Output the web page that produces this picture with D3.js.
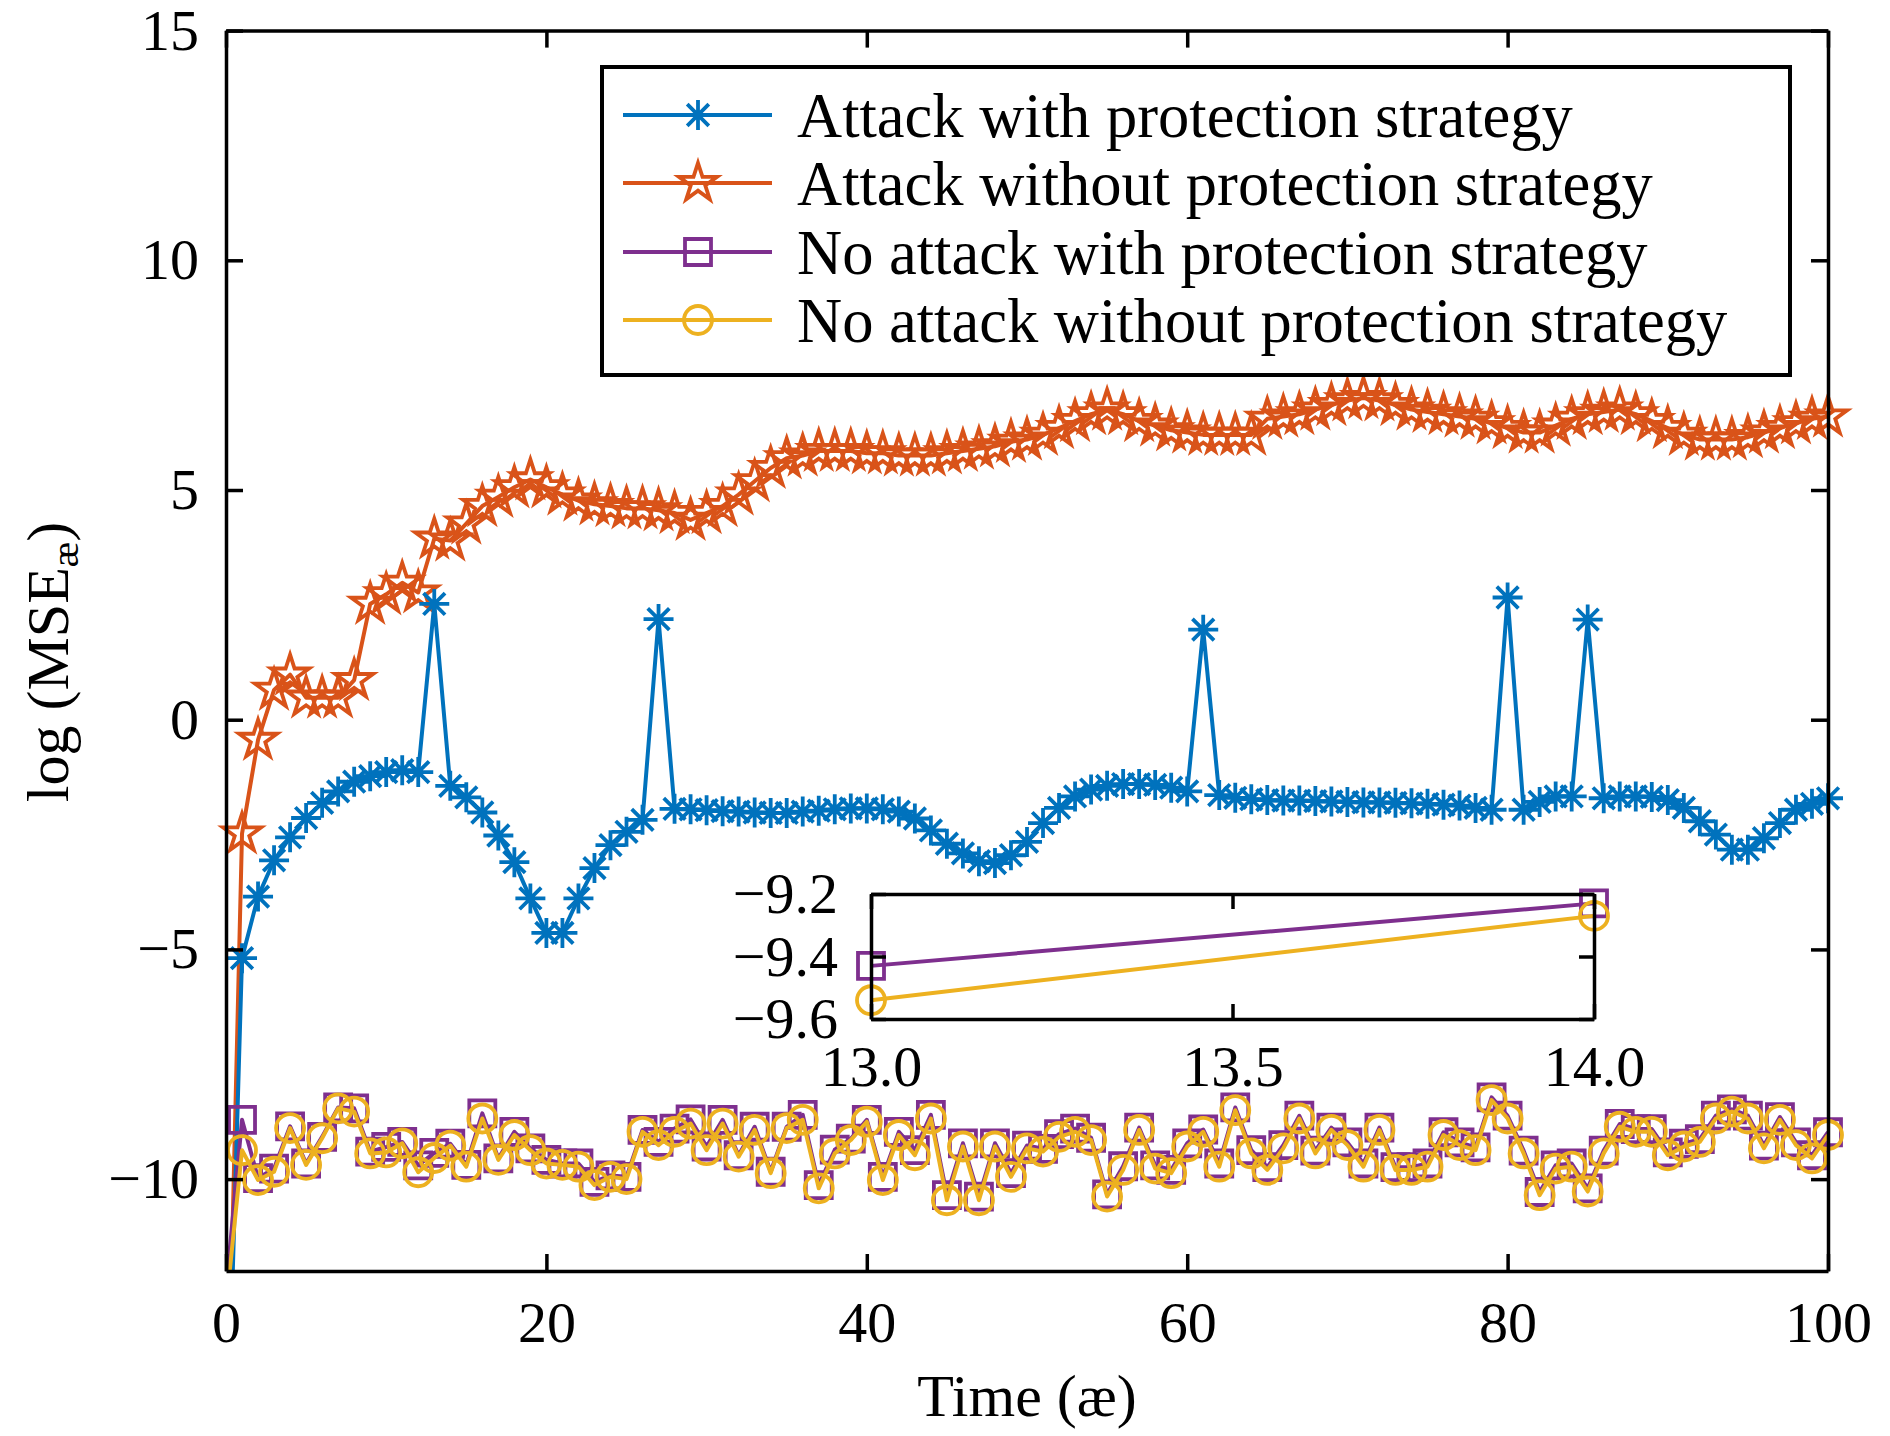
<!DOCTYPE html>
<html lang="en">
<head>
<meta charset="UTF-8">
<title>log MSE over time</title>
<script src="https://d3js.org/d3.v7.min.js"></script>
<style>
  body { margin: 0; background: #fff; }
  svg { display: block; }
  .lbl { font-family: "Liberation Serif", "Times New Roman", serif; fill: #000; }
</style>
</head>
<body>
<svg id="chart" width="1890" height="1436"></svg>
<script>
// ---- data ----
const time = d3.range(0, 101);

const attackWith = [-17, -5.19, -3.85, -3.06, -2.56, -2.14, -1.81, -1.56, -1.35, -1.23,
  -1.14, -1.10, -1.14, 2.52, -1.44, -1.69, -2.02, -2.52, -3.10, -3.89,
  -4.64, -4.64, -3.89, -3.23, -2.73, -2.44, -2.18, 2.19, -1.94, -1.95,
  -1.97, -1.99, -2.00, -2.02, -2.03, -2.03, -2.00, -1.98, -1.95, -1.93,
  -1.93, -1.95, -2.00, -2.15, -2.41, -2.70, -2.91, -3.08, -3.12, -2.95,
  -2.66, -2.25, -1.92, -1.67, -1.52, -1.44, -1.40, -1.40, -1.42, -1.48,
  -1.56, 1.96, -1.64, -1.70, -1.73, -1.75, -1.76, -1.76, -1.77, -1.78,
  -1.79, -1.80, -1.80, -1.81, -1.82, -1.83, -1.85, -1.87, -1.92, -1.96,
  2.66, -1.96, -1.79, -1.67, -1.67, 2.18, -1.71, -1.67, -1.67, -1.68,
  -1.75, -1.92, -2.21, -2.50, -2.83, -2.83, -2.58, -2.25, -1.96, -1.83,
  -1.71];

const attackWithout = [-17, -2.48, -0.44, 0.65, 0.98, 0.48, 0.48, 0.48, 0.86, 2.52,
  2.73, 2.98, 2.77, 3.94, 3.90, 4.27, 4.65, 4.85, 5.06, 5.23,
  5.06, 4.90, 4.77, 4.69, 4.65, 4.60, 4.60, 4.56, 4.50, 4.35,
  4.50, 4.65, 4.90, 5.19, 5.48, 5.69, 5.75, 5.85, 5.85, 5.85,
  5.80, 5.80, 5.75, 5.75, 5.75, 5.80, 5.85, 5.90, 5.95, 6.05,
  6.10, 6.20, 6.35, 6.50, 6.65, 6.75, 6.65, 6.50, 6.40, 6.30,
  6.25, 6.20, 6.20, 6.20, 6.20, 6.55, 6.60, 6.65, 6.75, 6.85,
  6.95, 7.00, 6.95, 6.85, 6.75, 6.70, 6.65, 6.60, 6.55, 6.45,
  6.35, 6.25, 6.25, 6.40, 6.55, 6.65, 6.70, 6.75, 6.65, 6.50,
  6.35, 6.20, 6.10, 6.10, 6.10, 6.15, 6.25, 6.35, 6.45, 6.55,
  6.60];

const noAttackWith = [-12.4, -8.71, -9.98, -9.77, -8.85, -9.66, -9.08, -8.44, -8.46, -9.40,
  -9.30, -9.19, -9.70, -9.43, -9.23, -9.69, -8.57, -9.55, -8.97, -9.33,
  -9.58, -9.66, -9.66, -10.06, -9.92, -9.95, -8.93, -9.19, -8.90, -8.70,
  -9.29, -8.71, -9.48, -8.86, -9.84, -8.86, -8.60, -10.13, -9.36, -9.12,
  -8.71, -9.95, -8.97, -9.37, -8.60, -10.35, -9.22, -10.38, -9.22, -9.87,
  -9.27, -9.34, -9.02, -8.90, -9.10, -10.33, -9.72, -8.88, -9.70, -9.80,
  -9.22, -8.92, -9.66, -8.44, -9.37, -9.74, -9.26, -8.62, -9.38, -8.88,
  -9.20, -9.66, -8.88, -9.74, -9.74, -9.66, -8.98, -9.20, -9.31, -8.22,
  -8.62, -9.38, -10.28, -9.70, -9.66, -10.20, -9.38, -8.80, -8.91, -8.91,
  -9.42, -9.23, -9.13, -8.62, -8.48, -8.62, -9.27, -8.65, -9.20, -9.48,
  -8.98];

const noAttackWithout = [-12.8, -9.37, -10.02, -9.84, -8.89, -9.69, -9.11, -8.46, -8.53, -9.44,
  -9.42, -9.22, -9.85, -9.54, -9.27, -9.73, -8.68, -9.58, -9.04, -9.37,
  -9.66, -9.69, -9.73, -10.13, -9.95, -10.00, -8.97, -9.26, -8.97, -8.79,
  -9.37, -8.79, -9.51, -8.93, -9.87, -8.89, -8.71, -10.20, -9.44, -9.15,
  -8.75, -10.02, -9.04, -9.48, -8.68, -10.46, -9.29, -10.46, -9.29, -9.95,
  -9.33, -9.40, -9.08, -8.97, -9.15, -10.38, -9.80, -8.93, -9.77, -9.87,
  -9.29, -8.97, -9.73, -8.50, -9.44, -9.80, -9.33, -8.68, -9.44, -8.93,
  -9.26, -9.73, -8.93, -9.80, -9.80, -9.73, -9.04, -9.26, -9.37, -8.28,
  -8.68, -9.44, -10.35, -9.77, -9.73, -10.27, -9.44, -8.86, -8.97, -8.97,
  -9.48, -9.29, -9.19, -8.68, -8.53, -8.68, -9.33, -8.71, -9.26, -9.55,
  -9.04];

const xTicks = [0, 20, 40, 60, 80, 100];
const yTicks = [-10, -5, 0, 5, 10, 15];

// zoomed inset (t = 13 .. 14)
const insetTime = [13, 14];
const insetWith = [-9.43, -9.23];
const insetWithout = [-9.54, -9.27];
const insetXTicks = [13, 13.5, 14];
const insetYTicks = [-9.6, -9.4, -9.2];

const seriesNames = [
  "Attack with protection strategy",
  "Attack without protection strategy",
  "No attack with protection strategy",
  "No attack without protection strategy"
];
const seriesColors = ["#0072BD", "#D95319", "#7E2F8E", "#EDB120"];
const seriesMarkers = ["asterisk", "star", "square", "circle"];

// ---- layout ----
const svg = d3.select("#chart");
const pLeft = 226, pRight = 1828, pTop = 30.6, pBottom = 1271;
const fontFam = '"Liberation Serif", "Times New Roman", serif';

const x = d3.scaleLinear().domain([0, 100]).range([pLeft, pRight]);
const y = d3.scaleLinear().domain([-12, 15]).range([pBottom, pTop]);

// marker shapes
function markerPath(type) {
  if (type === "asterisk") {
    const r = 15, d = r * 0.72;
    return `M${-r},0L${r},0M0,${-r}L0,${r}M${-d},${-d}L${d},${d}M${-d},${d}L${d},${-d}`;
  }
  if (type === "star") {
    const R = 20, ri = R * 0.382;
    const pts = d3.range(10).map(i => {
      const a = -Math.PI / 2 + i * Math.PI / 5;
      const rr = i % 2 ? ri : R;
      return [rr * Math.cos(a), rr * Math.sin(a)];
    });
    return "M" + pts.map(p => p.join(",")).join("L") + "Z";
  }
  if (type === "square") {
    const s = 13;
    return `M${-s},${-s}H${s}V${s}H${-s}Z`;
  }
  const r = 14;
  return `M${r},0A${r},${r} 0 1,1 ${-r},0A${r},${r} 0 1,1 ${r},0Z`;
}

svg.append("defs").append("clipPath").attr("id", "plotclip")
  .append("rect").attr("x", pLeft).attr("y", pTop)
  .attr("width", pRight - pLeft).attr("height", pBottom - pTop);

const line = d3.line().x(d => x(d[0])).y(d => y(d[1]));

function drawSeries(values, k) {
  const pts = time.map((t, i) => [t, values[i]]);
  const g = svg.append("g");
  g.append("path")
    .attr("d", line(pts))
    .attr("clip-path", "url(#plotclip)")
    .attr("fill", "none")
    .attr("stroke", seriesColors[k])
    .attr("stroke-width", 4)
    .attr("stroke-linejoin", "round");
  g.selectAll("path.mk")
    .data(pts.filter(p => p[1] >= -12))
    .join("path")
    .attr("class", "mk")
    .attr("transform", d => `translate(${x(d[0])},${y(d[1])})`)
    .attr("d", markerPath(seriesMarkers[k]))
    .attr("fill", "none")
    .attr("stroke", seriesColors[k])
    .attr("stroke-width", 3.8);
}

// orange drawn under the blue spikes
drawSeries(attackWithout, 1);
drawSeries(attackWith, 0);
drawSeries(noAttackWith, 2);
drawSeries(noAttackWithout, 3);

// axes (MATLAB style: ticks inward, box on)
const tick = 17;
function styleAxis(g) {
  g.selectAll(".domain").attr("stroke", "#000").attr("stroke-width", 3.5);
  g.selectAll(".tick line").attr("stroke", "#000").attr("stroke-width", 3.5);
  g.attr("font-family", fontFam).attr("font-size", 58);
  g.selectAll(".tick text").attr("fill", "#000");
}
svg.append("g").attr("transform", `translate(0,${pBottom})`)
  .call(d3.axisBottom(x).tickValues(xTicks).tickSize(-tick).tickSizeOuter(0).tickPadding(30))
  .call(styleAxis);
svg.append("g").attr("transform", `translate(0,${pTop})`)
  .call(d3.axisTop(x).tickValues(xTicks).tickSize(-tick).tickSizeOuter(0).tickFormat(""))
  .call(styleAxis);
svg.append("g").attr("transform", `translate(${pLeft},0)`)
  .call(d3.axisLeft(y).tickValues(yTicks).tickSize(-tick).tickSizeOuter(0).tickPadding(27))
  .call(styleAxis);
svg.append("g").attr("transform", `translate(${pRight},0)`)
  .call(d3.axisRight(y).tickValues(yTicks).tickSize(-tick).tickSizeOuter(0).tickFormat(""))
  .call(styleAxis);

// axis titles
svg.append("text").attr("class", "lbl")
  .attr("x", (pLeft + pRight) / 2).attr("y", 1416)
  .attr("text-anchor", "middle").attr("font-size", 60)
  .text("Time (æ)");

const yl = svg.append("text").attr("class", "lbl")
  .attr("transform", "translate(68,662) rotate(-90)")
  .attr("text-anchor", "middle").attr("font-size", 60);
yl.append("tspan").text("log (MSE");
yl.append("tspan").attr("font-size", 38).attr("dy", 10).text("æ");
yl.append("tspan").attr("dy", -10).text(")");

// ---- inset ----
const ix = d3.scaleLinear().domain([13, 14]).range([871, 1594]);
const iy = d3.scaleLinear().domain([-9.6, -9.2]).range([1019, 894]);
const inset = svg.append("g");
inset.append("rect")
  .attr("x", ix(13)).attr("y", iy(-9.2))
  .attr("width", ix(14) - ix(13)).attr("height", iy(-9.6) - iy(-9.2))
  .attr("fill", "#fff");

const iline = d3.line().x(d => ix(d[0])).y(d => iy(d[1]));
[[insetWith, 2], [insetWithout, 3]].forEach(([vals, k]) => {
  const pts = insetTime.map((t, i) => [t, vals[i]]);
  inset.append("path").attr("d", iline(pts))
    .attr("fill", "none").attr("stroke", seriesColors[k]).attr("stroke-width", 4);
  inset.selectAll(null).data(pts).join("path")
    .attr("transform", d => `translate(${ix(d[0])},${iy(d[1])})`)
    .attr("d", markerPath(seriesMarkers[k]))
    .attr("fill", "none").attr("stroke", seriesColors[k]).attr("stroke-width", 3.8);
});

const itick = 15;
inset.append("g").attr("transform", `translate(0,${iy(-9.6)})`)
  .call(d3.axisBottom(ix).tickValues(insetXTicks).tickSize(-itick).tickSizeOuter(0)
    .tickPadding(26).tickFormat(d3.format(".1f")))
  .call(styleAxis);
inset.append("g").attr("transform", `translate(0,${iy(-9.2)})`)
  .call(d3.axisTop(ix).tickValues(insetXTicks).tickSize(-itick).tickSizeOuter(0).tickFormat(""))
  .call(styleAxis);
inset.append("g").attr("transform", `translate(${ix(13)},0)`)
  .call(d3.axisLeft(iy).tickValues(insetYTicks).tickSize(-itick).tickSizeOuter(0)
    .tickPadding(33).tickFormat(d3.format(".1f")))
  .call(styleAxis);
inset.append("g").attr("transform", `translate(${ix(14)},0)`)
  .call(d3.axisRight(iy).tickValues(insetYTicks).tickSize(-itick).tickSizeOuter(0).tickFormat(""))
  .call(styleAxis);

// ---- legend ----
const leg = svg.append("g");
leg.append("rect")
  .attr("x", 602).attr("y", 67).attr("width", 1188).attr("height", 308)
  .attr("fill", "#fff").attr("stroke", "#000").attr("stroke-width", 4);
const rowY = [115, 183, 252, 320];
seriesNames.forEach((name, k) => {
  const row = leg.append("g").attr("transform", `translate(0,${rowY[k]})`);
  row.append("line").attr("x1", 623).attr("x2", 772)
    .attr("stroke", seriesColors[k]).attr("stroke-width", 4);
  row.append("path").attr("transform", "translate(698,0)")
    .attr("d", markerPath(seriesMarkers[k]))
    .attr("fill", "none").attr("stroke", seriesColors[k]).attr("stroke-width", 3.8);
  row.append("text").attr("class", "lbl")
    .attr("x", 797).attr("dy", "0.35em").attr("font-size", 62.5)
    .text(name);
});
</script>
</body>
</html>
